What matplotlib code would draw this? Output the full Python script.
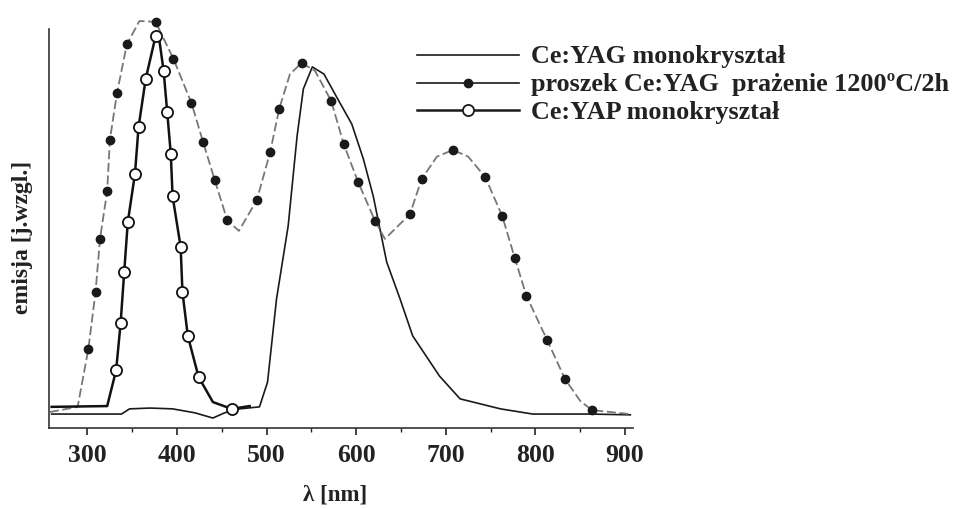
import matplotlib
matplotlib.use("Agg")
import matplotlib.pyplot as plt
from matplotlib.lines import Line2D

# widma emisji, emisja w j. wzgl.
yag_nm = [260, 338, 347, 370, 395, 420, 440, 453, 470, 492, 501, 511, 524, 534, 541, 551,
          564, 578, 595, 608, 619, 634, 649, 663, 693, 716, 761, 797, 861, 906]
yag_em = [0.035, 0.035, 0.048, 0.05, 0.048, 0.038, 0.025, 0.038, 0.048, 0.053, 0.115, 0.323,
          0.506, 0.732, 0.85, 0.905, 0.887, 0.83, 0.762, 0.674, 0.581, 0.416, 0.323, 0.231,
          0.13, 0.073, 0.048, 0.035, 0.035, 0.033]

powder_nm = [258, 289, 301, 309, 314, 322, 325, 333, 344, 358, 376, 396, 416, 429, 442, 456,
             469, 489, 504, 514, 526, 539, 554, 572, 586, 602, 621, 632, 660, 673, 690, 708,
             725, 744, 763, 777, 790, 813, 833, 850, 863, 905]
powder_em = [0.04, 0.053, 0.198, 0.341, 0.474, 0.594, 0.722, 0.84, 0.962, 1.02, 1.018, 0.925,
             0.815, 0.717, 0.622, 0.521, 0.494, 0.571, 0.692, 0.8, 0.887, 0.915, 0.895, 0.82,
             0.712, 0.617, 0.519, 0.474, 0.536, 0.624, 0.68, 0.697, 0.68, 0.629, 0.531, 0.426,
             0.331, 0.221, 0.123, 0.068, 0.045, 0.035]
powder_marks = [2, 3, 4, 5, 6, 7, 8, 10, 11, 12, 13, 14, 15, 17, 18, 19, 21, 23, 24, 25, 26,
                28, 29, 31, 33, 34, 35, 36, 37, 38, 40]

yap_nm = [260, 322, 332, 337, 341, 345, 353, 357, 365, 376, 379, 385, 389, 393, 395, 404,
          406, 412, 424, 440, 461, 481]
yap_em = [0.053, 0.055, 0.145, 0.263, 0.391, 0.516, 0.637, 0.754, 0.875, 0.982, 0.992, 0.895,
          0.792, 0.687, 0.581, 0.454, 0.341, 0.231, 0.128, 0.065, 0.048, 0.055]
yap_marks = [2, 3, 4, 5, 6, 7, 8, 9, 11, 12, 13, 14, 15, 16, 17, 18, 20]

labels = ["Ce:YAG monokryształ", "proszek Ce:YAG  prażenie 1200ºC/2h", "Ce:YAP monokryształ"]
xticks = [300, 400, 500, 600, 700, 800, 900]

plt.rcParams['font.family'] = ['Liberation Serif', 'DejaVu Serif']
plt.rcParams['font.weight'] = 'bold'
ink = '#222222'

W, H = 958, 510
fig = plt.figure(figsize=(W / 100, H / 100), dpi=100)
ax = fig.add_axes([0.0511, 0.1588, 0.6097, 0.8293])

ax.plot(yag_nm, yag_em, color='#1a1a1a', lw=1.2, clip_on=False)
ax.plot(powder_nm, powder_em, color='#777777', lw=1.3, ls=(0, (5, 2)),
        marker='o', markevery=powder_marks, ms=6, mfc='#1a1a1a', mec='#1a1a1a', clip_on=False)
ax.plot(yap_nm, yap_em, color='#111111', lw=1.8,
        marker='o', markevery=yap_marks, ms=8, mfc='white', mec='#111111', mew=1.3, clip_on=False)

ax.set_xlim(257, 909)
ax.set_ylim(0, 1.06)
ax.spines['top'].set_visible(False)
ax.spines['right'].set_visible(False)
ax.spines['left'].set_bounds(0, 1.0)
for s in ('left', 'bottom'):
    ax.spines[s].set_color('#333333')
    ax.spines[s].set_linewidth(1.2)

ax.set_yticks([])
ax.set_xticks(xticks)
ax.set_xticks(range(300, 901, 50), minor=True)
ax.tick_params(axis='x', which='major', direction='out', length=5, width=1.2,
               pad=6, labelsize=18.5, colors=ink)
ax.tick_params(axis='x', which='minor', direction='out', length=3, width=1.0, colors=ink)

fig.text(0.35, 0.029, "λ [nm]", ha='center', va='center', fontsize=16.5, color=ink)
fig.text(0.023, 0.535, "emisja [j.wzgl.]", ha='center', va='center', rotation=90,
         fontsize=17, color=ink)

# legenda rysowana recznie (rowne odstepy wierszy)
styles = [dict(lw=1.2), dict(lw=1.2, marker='o', ms=6, mfc='#1a1a1a'),
          dict(lw=1.8, marker='o', ms=8, mfc='white', mew=1.3)]
for i, (lab, st) in enumerate(zip(labels, styles)):
    yp = 56 + 27.5 * i
    yf = 1 - yp / H
    fig.add_artist(Line2D([417 / W, 519 / W], [yf, yf], color='#1a1a1a',
                          lw=st['lw'], transform=fig.transFigure))
    if 'marker' in st:
        fig.add_artist(Line2D([468 / W], [yf], ls='none', marker='o', ms=st['ms'],
                              mfc=st['mfc'], mec='#1a1a1a', mew=st.get('mew', 1.0),
                              transform=fig.transFigure))
    fig.text(531 / W, 1 - (yp + 7.5) / H, lab, ha='left', va='baseline',
             fontsize=18.8, color=ink)

fig.savefig("out.png", dpi=100)
